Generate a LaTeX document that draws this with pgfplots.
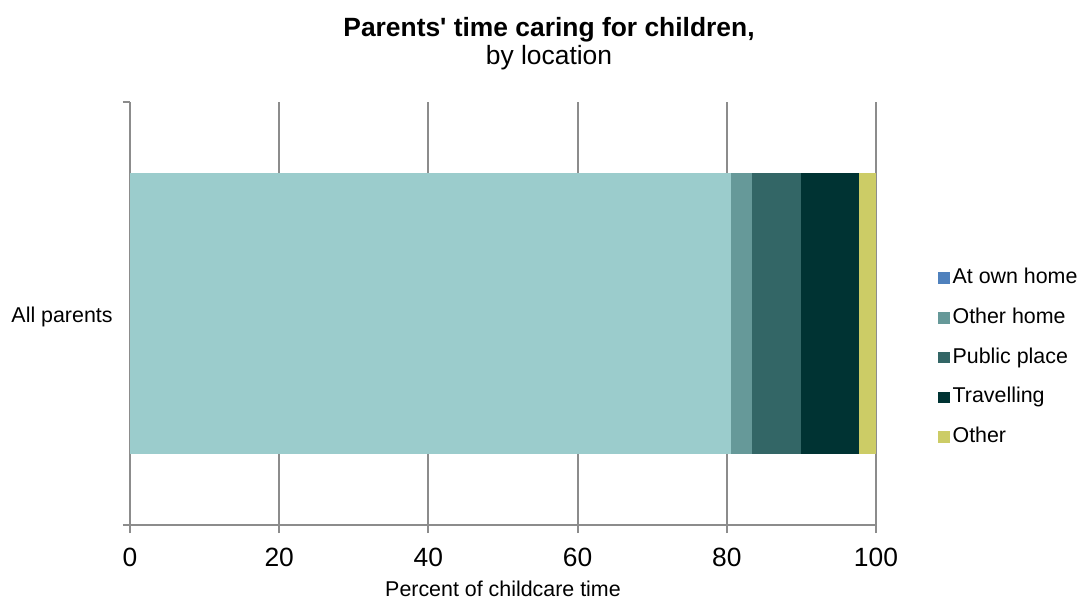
\documentclass[border=0pt]{standalone}
\usepackage{pgfplots}
\pgfplotsset{compat=1.18}
\usepackage{fontspec}
\setmainfont{Liberation Sans}
\definecolor{cA}{HTML}{9BCCCC}
\definecolor{cB}{HTML}{669999}
\definecolor{cC}{HTML}{336666}
\definecolor{cD}{HTML}{003333}
\definecolor{cE}{HTML}{CCCC66}
\definecolor{cLeg}{HTML}{4F81BD}
\definecolor{axgray}{HTML}{8C8C8C}
\begin{document}
\begin{tikzpicture}
\begin{axis}[
  at={(0,0)}, anchor=south west,
  scale only axis, width=373pt, height=211.5pt,
  xbar stacked, bar width=140.5pt,
  xmin=0, xmax=100, ymin=-0.5, ymax=0.5,
  xtick={0,20,...,100},
  ytick={0}, yticklabels={All parents},
  minor ytick={-0.5,0.5},
  axis x line*=bottom, axis y line*=left,
  axis line style={draw=axgray, line width=1pt},
  xmajorgrids, major x grid style={draw=axgray, line width=1pt},
  tick align=outside, xtick pos=bottom,
  major tick length=4pt, minor tick length=3.5pt,
  x tick style={draw=axgray, line width=1pt},
  major y tick style={draw=none},
  minor y tick style={draw=axgray, line width=1pt},
  /pgf/number format/assume math mode=true,
  xticklabel style={font=\fontsize{13.2}{15}\selectfont, anchor=base, yshift=-16.65pt},
  yticklabel style={font=\fontsize{10.7}{12}\selectfont, anchor=base east, inner sep=0pt, xshift=-4.5pt, yshift=-4.4pt},
  xlabel={Percent of childcare time},
  xlabel style={font=\fontsize{10.7}{12}\selectfont, at={(axis description cs:0.5,0)}, anchor=base, yshift=-35.85pt, inner sep=0pt},
  legend style={at={(1.0831,0.6075)}, anchor=north west, draw=none, fill=none,
    inner sep=0pt, outer sep=0pt, font=\fontsize{10.7}{12}\selectfont, row sep=9.9pt,
    nodes={inner sep=0pt, text height=7.7pt, text depth=2.3pt},
    /tikz/every odd column/.append style={column sep=1.5pt}},
  legend cell align=left,
]
\addplot[fill=cA, draw=none, legend image code/.code={\fill[cLeg] (0pt,-2.9pt) rectangle (5.8pt,2.9pt);}] coordinates {(80.6,0)};
\addplot[fill=cB, draw=none, legend image code/.code={\fill[cB] (0pt,-2.9pt) rectangle (5.8pt,2.9pt);}] coordinates {(2.8,0)};
\addplot[fill=cC, draw=none, legend image code/.code={\fill[cC] (0pt,-2.9pt) rectangle (5.8pt,2.9pt);}] coordinates {(6.6,0)};
\addplot[fill=cD, draw=none, legend image code/.code={\fill[cD] (0pt,-2.9pt) rectangle (5.8pt,2.9pt);}] coordinates {(7.7,0)};
\addplot[fill=cE, draw=none, legend image code/.code={\fill[cE] (0pt,-2.9pt) rectangle (5.8pt,2.9pt);}] coordinates {(2.3,0)};
\legend{At own home, Other home, Public place, Travelling, Other}
\end{axis}
\node[font=\bfseries\fontsize{13.2}{15}\selectfont, anchor=base, inner sep=0pt] at (209.5pt,244.15pt) {Parents\textquotesingle{} time caring for children,};
\node[font=\fontsize{13.2}{15}\selectfont, anchor=base, inner sep=0pt] at (209.5pt,230pt) {by location};
\path[use as bounding box] (-65pt,-40pt) rectangle (478pt,262.5pt);
\end{tikzpicture}
\end{document}
